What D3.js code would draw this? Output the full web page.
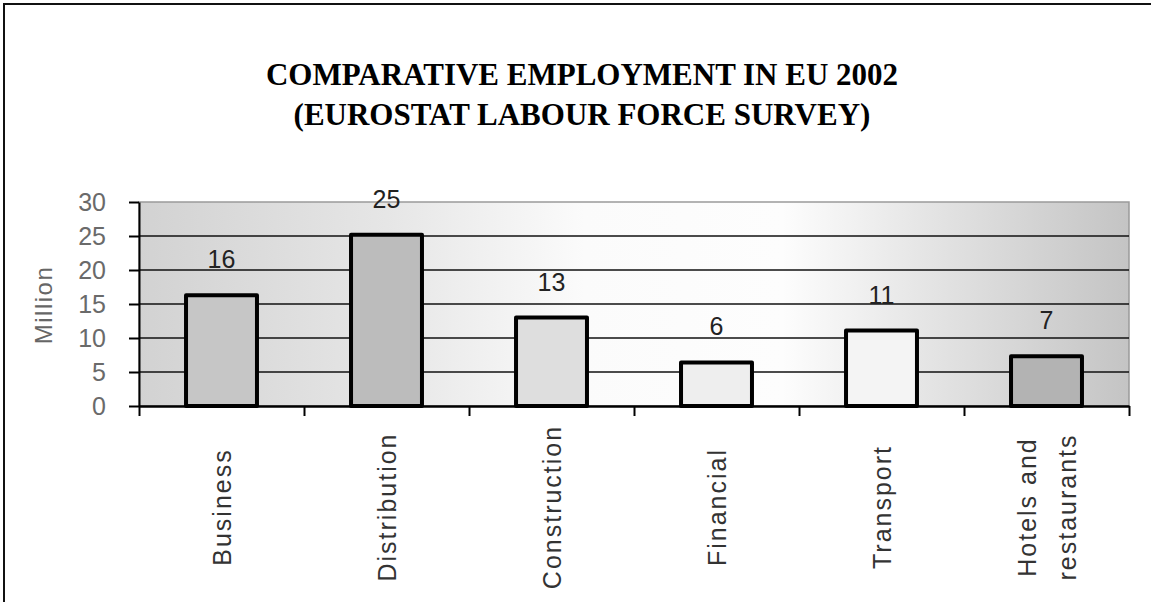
<!DOCTYPE html>
<html>
<head>
<meta charset="utf-8">
<script src="https://cdn.jsdelivr.net/npm/d3@7"></script>
<style>
  body { margin: 0; background: #fff; }
  svg { display: block; }
</style>
</head>
<body>
<div id="chart"></div>
<script>
// data
const categories = ["Business", "Distribution", "Construction", "Financial", "Transport", "Hotels and restaurants"];
const employment = [16.3, 25.2, 13.0, 6.4, 11.1, 7.3];
const valueLabels = ["16", "25", "13", "6", "11", "7"];
const yTicks = [0, 5, 10, 15, 20, 25, 30];
const titleLines = ["COMPARATIVE EMPLOYMENT IN EU 2002", "(EUROSTAT LABOUR FORCE SURVEY)"];

const barFills = ["#c6c6c6", "#bcbcbc", "#dedede", "#eeeeee", "#f4f4f4", "#b3b3b3"];

const width = 1151, height = 602;
const plot = { left: 139, right: 1129, top: 202, bottom: 406 };

const svg = d3.select("#chart").append("svg")
  .attr("width", width)
  .attr("height", height);

// page frame (scan edges)
svg.append("line").attr("x1", 4).attr("x2", 4).attr("y1", 3).attr("y2", height)
  .attr("stroke", "#111").attr("stroke-width", 2);
svg.append("line").attr("x1", 4).attr("x2", width).attr("y1", 4).attr("y2", 4)
  .attr("stroke", "#111").attr("stroke-width", 2);

// title
svg.append("text")
  .attr("x", 582)
  .attr("y", 85)
  .attr("text-anchor", "middle")
  .style("font-family", "'Liberation Serif', 'Times New Roman', serif")
  .style("font-weight", "bold")
  .style("font-size", "31px")
  .selectAll("tspan")
  .data(titleLines)
  .join("tspan")
    .attr("x", 582)
    .attr("dy", (d, i) => i === 0 ? 0 : 40)
    .text(d => d);

// scales
const x = d3.scaleBand()
  .domain(categories)
  .range([plot.left, plot.right])
  .paddingInner(0.57)
  .paddingOuter(0.285);

const xEdge = d3.scaleLinear()
  .domain([0, categories.length])
  .range([plot.left, plot.right]);

const y = d3.scaleLinear()
  .domain([0, 30])
  .range([plot.bottom, plot.top]);

// plot background gradient
const defs = svg.append("defs");
const grad = defs.append("linearGradient").attr("id", "bg")
  .attr("x1", "0%").attr("x2", "100%").attr("y1", "0%").attr("y2", "0%");
[["0%", "#d2d2d2"], ["25%", "#e6e6e6"], ["45%", "#fbfbfb"], ["65%", "#fdfdfd"],
 ["80%", "#e4e4e4"], ["100%", "#c4c4c4"]].forEach(s => {
  grad.append("stop").attr("offset", s[0]).attr("stop-color", s[1]);
});

svg.append("rect")
  .attr("x", plot.left)
  .attr("y", plot.top)
  .attr("width", plot.right - plot.left)
  .attr("height", plot.bottom - plot.top)
  .attr("fill", "url(#bg)")
  .attr("stroke", "#9a9a9a")
  .attr("stroke-width", 1.5);

// gridlines
svg.append("g")
  .selectAll("line")
  .data(yTicks.filter(t => t > 0 && t < 30))
  .join("line")
    .attr("x1", plot.left)
    .attr("x2", plot.right)
    .attr("y1", d => y(d))
    .attr("y2", d => y(d))
    .attr("stroke", "#111")
    .attr("stroke-width", 1.5);

// bars
svg.append("g")
  .selectAll("rect")
  .data(employment)
  .join("rect")
    .attr("x", (d, i) => x(categories[i]))
    .attr("y", d => y(d))
    .attr("width", x.bandwidth())
    .attr("height", d => y(0) - y(d))
    .attr("fill", (d, i) => barFills[i])
    .attr("stroke", "#000")
    .attr("stroke-width", 4)
    .attr("stroke-linejoin", "round");

// value labels
svg.append("g")
  .selectAll("text")
  .data(employment)
  .join("text")
    .attr("x", (d, i) => x(categories[i]) + x.bandwidth() / 2)
    .attr("y", d => y(d) - 27)
    .attr("text-anchor", "middle")
    .style("font-family", "'Liberation Sans', Arial, sans-serif")
    .style("font-size", "25px")
    .style("fill", "#222")
    .text((d, i) => valueLabels[i]);

// y axis
const yAxis = svg.append("g")
  .attr("transform", `translate(${plot.left},0)`)
  .call(d3.axisLeft(y).tickValues(yTicks).tickSize(10).tickPadding(23).tickSizeOuter(0));
yAxis.select(".domain").attr("stroke", "#000").attr("stroke-width", 2);
yAxis.selectAll(".tick line").attr("stroke", "#000").attr("stroke-width", 2);
yAxis.selectAll(".tick text")
  .style("font-family", "'Liberation Sans', Arial, sans-serif")
  .style("font-size", "25px")
  .style("fill", "#6a6a6a");

// x axis: ticks on the category edges
const xAxis = svg.append("g")
  .attr("transform", `translate(0,${plot.bottom})`)
  .call(d3.axisBottom(xEdge).tickValues(d3.range(categories.length + 1)).tickSize(10).tickFormat("").tickSizeOuter(0));
xAxis.select(".domain").attr("stroke", "#000").attr("stroke-width", 2.5);
xAxis.selectAll(".tick line").attr("stroke", "#000").attr("stroke-width", 2);

// category labels, rotated
const lineHeight = 40;
svg.append("g")
  .selectAll("text")
  .data(categories)
  .join("text")
    .attr("transform", d => `translate(${x(d) + x.bandwidth() / 2},507) rotate(-90)`)
    .attr("text-anchor", "middle")
    .style("font-family", "'Liberation Sans', Arial, sans-serif")
    .style("font-size", "25px")
    .style("letter-spacing", "2px")
    .style("fill", "#333")
    .each(function (d) {
      const lines = d === "Hotels and restaurants" ? ["Hotels and", "restaurants"] : [d];
      d3.select(this).selectAll("tspan")
        .data(lines)
        .join("tspan")
          .attr("x", 0)
          .attr("y", (l, i) => 9 + (i - (lines.length - 1) / 2) * lineHeight)
          .text(l => l);
    });

// y axis title
svg.append("text")
  .attr("transform", "translate(52,305) rotate(-90)")
  .attr("text-anchor", "middle")
  .style("font-family", "'Liberation Sans', Arial, sans-serif")
  .style("font-size", "24px")
  .style("letter-spacing", "1.5px")
  .style("fill", "#666")
  .text("Million");
</script>
</body>
</html>
